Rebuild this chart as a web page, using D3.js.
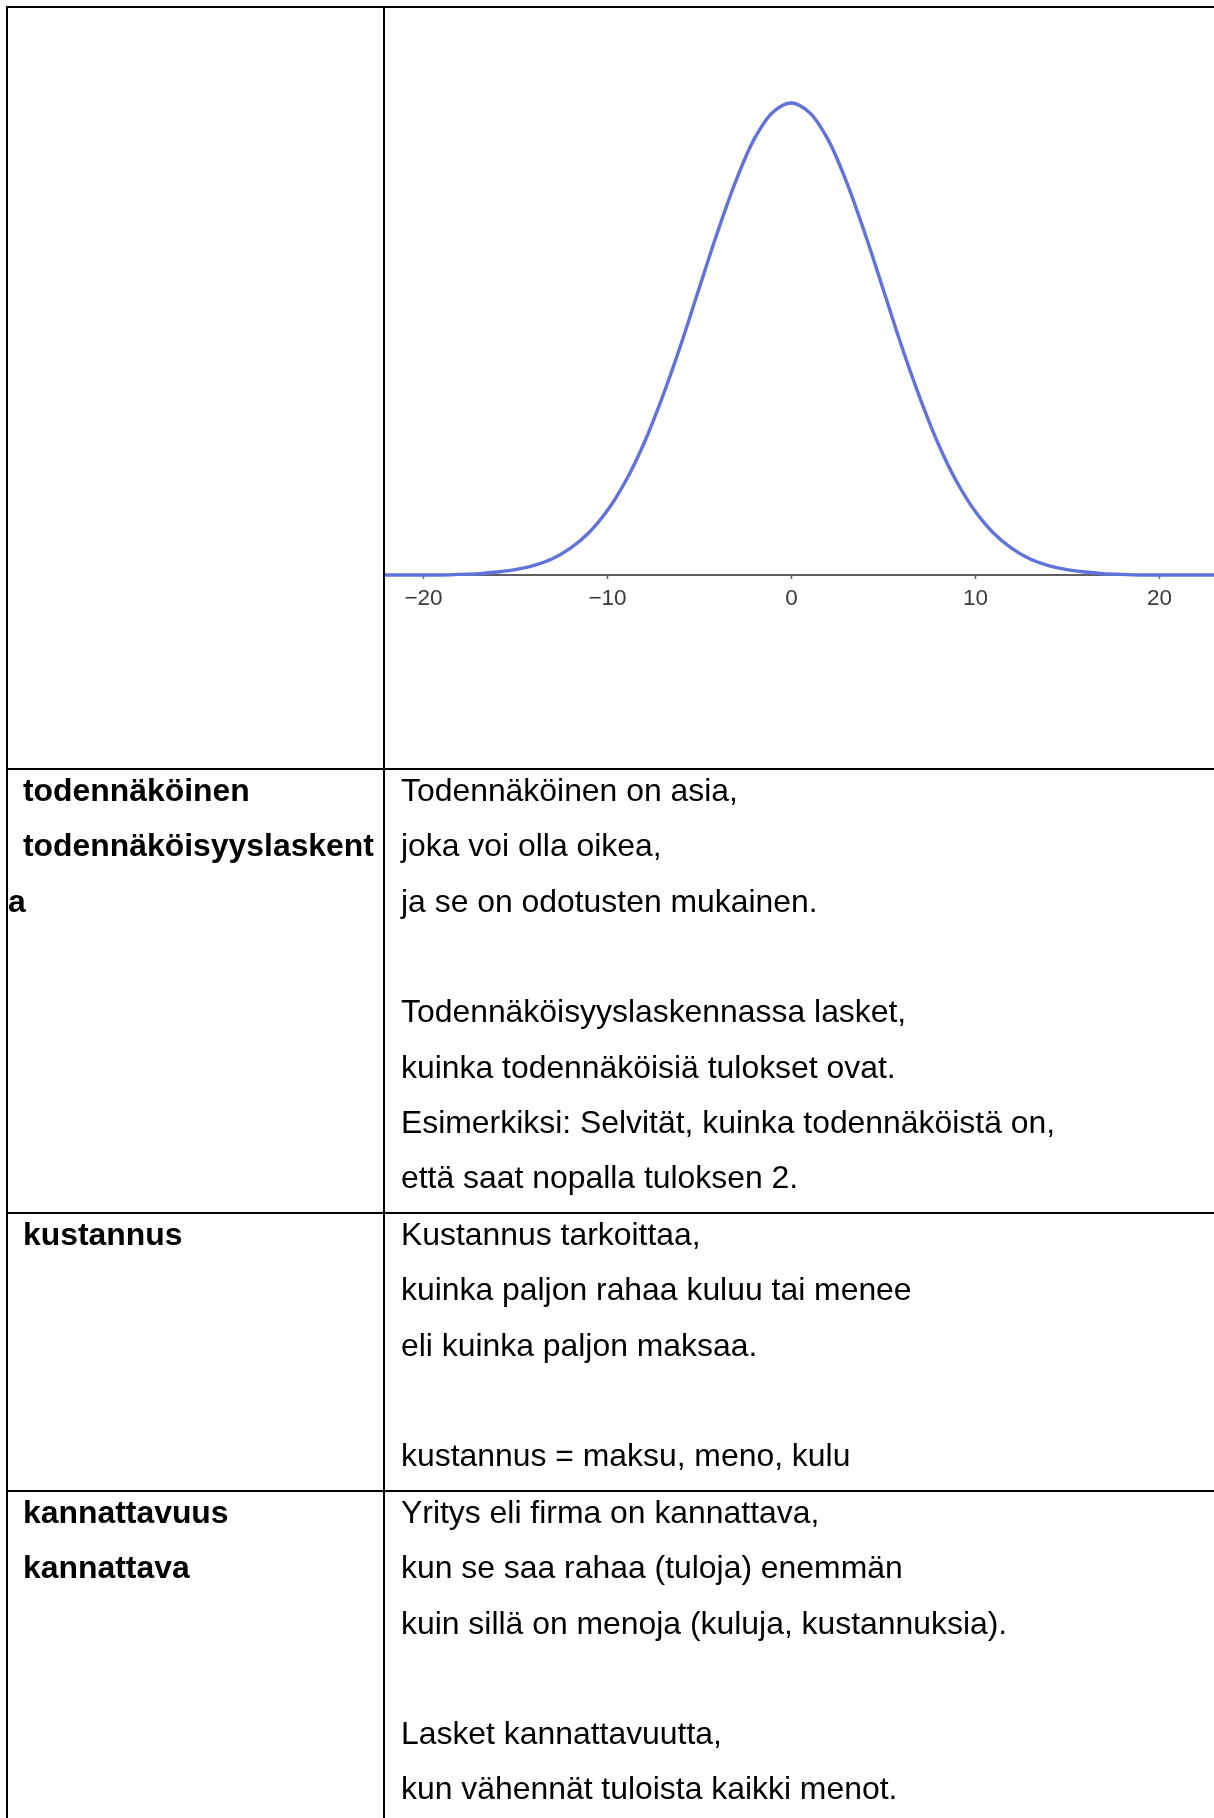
<!DOCTYPE html>
<html>
<head>
<meta charset="utf-8">
<script src="https://cdn.jsdelivr.net/npm/d3@7"></script>
<style>
  html, body { margin: 0; padding: 0; background: #fff; }
  svg { display: block; }
  .cell-text { font-family: "Liberation Sans", Arial, sans-serif; font-size: 31.9px; fill: #000; }
  .term { font-weight: bold; }
  .axis text { font-family: "Liberation Sans", Arial, sans-serif; font-size: 22.5px; fill: #3a3a3a; }
  .axis line, .axis-line { stroke: #5e5e5e; }
</style>
</head>
<body>
<div id="chart"></div>
<script>
'use strict';

// curve (x, height)
var curveX = [-23, -22, -21, -20, -19, -18, -17, -16, -15, -14, -13, -12, -11, -10, -9, -8, -7, -6, -5, -4, -3, -2, -1,
  0, 1, 2, 3, 4, 5, 6, 7, 8, 9, 10, 11, 12, 13, 14, 15, 16, 17, 18, 19, 20, 21, 22, 23];
var curveY = [0, 0, 0, 0, 0, 0.0001, 0.0002, 0.0005, 0.0009, 0.0016, 0.0027, 0.0045, 0.0071, 0.0108, 0.0158, 0.0222,
  0.0300, 0.0388, 0.0484, 0.0579, 0.0666, 0.0737, 0.0782,
  0.0798, 0.0782, 0.0737, 0.0666, 0.0579, 0.0484, 0.0388, 0.0300, 0.0222, 0.0158, 0.0108, 0.0071, 0.0045,
  0.0027, 0.0016, 0.0009, 0.0005, 0.0002, 0.0001, 0, 0, 0, 0, 0];
var tickValues = [-20, -10, 0, 10, 20];

// glossary rows
var terms = [
  ['todennäköinen', 'todennäköisyyslaskenta'],
  ['kustannus'],
  ['kannattavuus', 'kannattava']
];
var definitions = [
  ['Todennäköinen on asia,', 'joka voi olla oikea,', 'ja se on odotusten mukainen.', '',
    'Todennäköisyyslaskennassa lasket,', 'kuinka todennäköisiä tulokset ovat.',
    'Esimerkiksi: Selvität, kuinka todennäköistä on,', 'että saat nopalla tuloksen 2.'],
  ['Kustannus tarkoittaa,', 'kuinka paljon rahaa kuluu tai menee', 'eli kuinka paljon maksaa.', '',
    'kustannus = maksu, meno, kulu'],
  ['Yritys eli firma on kannattava,', 'kun se saa rahaa (tuloja) enemmän',
    'kuin sillä on menoja (kuluja, kustannuksia).', '', 'Lasket kannattavuutta,',
    'kun vähennät tuloista kaikki menot.']
];

var W = 1214, H = 1818;
var tableLeft = 7, tableTop = 7, divider = 384;
var graphBottom = 769;
var lineH = 55.3, rowPad = 1.5, baseOff = 32;
var termX = 23, wrapX = 8, defX = 401;

var svg = d3.select('#chart').append('svg')
    .attr('width', W)
    .attr('height', H);

// ---- graph cell ----
var defs = svg.append('defs');
defs.append('filter')
    .attr('id', 'soft')
    .append('feGaussianBlur').attr('stdDeviation', 0.6);
defs.append('clipPath')
    .attr('id', 'cell')
    .append('rect')
    .attr('x', divider).attr('y', tableTop)
    .attr('width', W - divider).attr('height', graphBottom - tableTop);

var x = d3.scaleLinear().domain([-20, 20]).range([423, 1159]),
    y = d3.scaleLinear().domain([0, 0.0798]).range([575, 103]);

var graph = svg.append('g')
    .attr('clip-path', 'url(#cell)')
    .append('g')
    .attr('filter', 'url(#soft)');

graph.append('line')
    .attr('class', 'axis-line')
    .attr('x1', divider).attr('x2', W)
    .attr('y1', y(0)).attr('y2', y(0))
    .attr('stroke-width', 2);

var axis = graph.append('g')
    .attr('class', 'axis')
    .attr('transform', 'translate(0,' + y(0) + ')')
    .call(d3.axisBottom(x).tickValues(tickValues).tickSize(4).tickPadding(10));
axis.select('.domain').remove();
axis.selectAll('line').attr('stroke-width', 1.5);

var pts = curveX.map(function (v, i) { return [v, curveY[i]]; });
graph.append('path')
    .datum(pts)
    .attr('fill', 'none')
    .attr('stroke', '#6073da')
    .attr('stroke-width', 3.4)
    .attr('d', d3.line()
        .x(function (d) { return x(d[0]); })
        .y(function (d) { return y(d[1]); })
        .curve(d3.curveCatmullRom));

// ---- glossary rows ----
var rowTops = [graphBottom];
definitions.forEach(function (lines, i) {
  rowTops.push(rowTops[i] + lines.length * lineH + rowPad);
});

var cellW = divider - termX - 8;
definitions.forEach(function (lines, i) {
  var rowTop = rowTops[i];
  var k = 0;

  terms[i].forEach(function (term) {
    var t = svg.append('text')
        .attr('class', 'cell-text term')
        .attr('x', termX)
        .attr('y', rowTop + baseOff + k * lineH)
        .text(term);
    k++;
    // break long words by character, like the cell does
    var rest = '';
    while (t.node().getComputedTextLength() > cellW && term.length > 1) {
      rest = term.slice(-1) + rest;
      term = term.slice(0, -1);
      t.text(term);
    }
    if (rest) {
      svg.append('text')
          .attr('class', 'cell-text term')
          .attr('x', wrapX)
          .attr('y', rowTop + baseOff + k * lineH)
          .text(rest);
      k++;
    }
  });

  lines.forEach(function (line, j) {
    svg.append('text')
        .attr('class', 'cell-text')
        .attr('x', defX)
        .attr('y', rowTop + baseOff + j * lineH)
        .text(line);
  });
});

// ---- table borders ----
var borders = svg.append('g')
    .attr('stroke', '#000')
    .attr('stroke-width', 2);
borders.append('line').attr('x1', tableLeft - 1).attr('x2', W).attr('y1', tableTop).attr('y2', tableTop);
borders.append('line').attr('x1', tableLeft).attr('x2', tableLeft).attr('y1', tableTop - 1).attr('y2', H);
borders.append('line').attr('x1', divider).attr('x2', divider).attr('y1', tableTop - 1).attr('y2', H);
rowTops.slice(0, 3).forEach(function (ry) {
  borders.append('line').attr('x1', tableLeft).attr('x2', W).attr('y1', ry).attr('y2', ry);
});
</script>
</body>
</html>
